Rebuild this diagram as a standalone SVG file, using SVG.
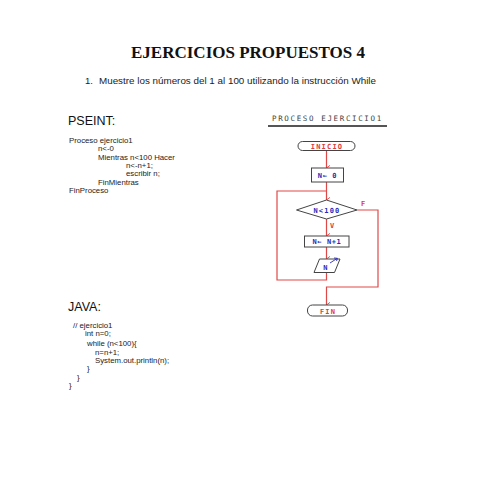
<svg xmlns="http://www.w3.org/2000/svg" width="495" height="495" viewBox="0 0 495 495">
<defs>
<marker id="ah" viewBox="0 0 8 8" refX="4" refY="7" markerWidth="7" markerHeight="7" orient="auto" markerUnits="userSpaceOnUse">
<path d="M1,3 L4,7 L7,3" fill="none" stroke="#e04848" stroke-width="1"/>
</marker>
</defs>
<style>
.title{font-family:"Liberation Serif",serif;font-weight:bold;font-size:17px;fill:#111}
.sub{font-family:"Liberation Sans",Arial,sans-serif;font-size:9.5px;fill:#222}
.head{font-family:"Liberation Sans",Arial,sans-serif;font-size:12.5px;fill:#111}
.code{font-family:"Liberation Sans",Arial,sans-serif;font-size:7.8px;fill:#222}
.fc{font-family:"DejaVu Sans Mono",monospace;font-size:7px;font-weight:bold;letter-spacing:1.2px}
.hdr{font-family:"DejaVu Sans Mono",monospace;font-size:7.5px;letter-spacing:1.8px;fill:#444}
.red{fill:#e03a3a}
.blue{fill:#2a2ab8}
.shape{fill:#fff;stroke:#444;stroke-width:1}
.conn{fill:none;stroke:#e04848;stroke-width:1.2}
</style>
<rect width="495" height="495" fill="#fff"/>

<text class="title" x="248" y="58" text-anchor="middle">EJERCICIOS PROPUESTOS 4</text>
<text class="sub" x="85" y="84">1.</text>
<text class="sub" x="99" y="84" textLength="277" lengthAdjust="spacingAndGlyphs">Muestre los números del 1 al 100 utilizando la instrucción While</text>

<text class="head" x="68" y="125">PSEINT:</text>
<g class="code">
<text x="69" y="143">Proceso ejercicio1</text>
<text x="98" y="151">n&lt;-0</text>
<text x="98" y="159.5">Mientras n&lt;100 Hacer</text>
<text x="126" y="168">n&lt;-n+1;</text>
<text x="126" y="176">escribir n;</text>
<text x="98" y="185">FinMientras</text>
<text x="69" y="193">FinProceso</text>
</g>

<text class="head" x="68" y="311">JAVA:</text>
<g class="code">
<text x="73" y="328">// ejercicio1</text>
<text x="85" y="336">int n=0;</text>
<text x="87" y="346">while (n&lt;100){</text>
<text x="95" y="354.5">n=n+1;</text>
<text x="95" y="363">System.out.println(n);</text>
<text x="87" y="371">}</text>
<text x="77" y="380">}</text>
<text x="69" y="388">}</text>
</g>

<g id="header">
<text class="hdr" x="272" y="121" textLength="111" lengthAdjust="spacing">PROCESO EJERCICIO1</text>
<rect x="268" y="125" width="119" height="2" fill="#555"/>
</g>

<g id="connectors">
<path class="conn" d="M326.5,151 V168" marker-end="url(#ah)"/>
<path class="conn" d="M326.5,182 V200" marker-end="url(#ah)"/>
<path class="conn" d="M326.5,273 V280 H277 V191 H326.5"/>
<path class="conn" d="M326.5,219 V236" marker-end="url(#ah)"/>
<path class="conn" d="M326.5,247 V259" marker-end="url(#ah)"/>
<path class="conn" d="M357,210 H378 V287 H326.5 V305" marker-end="url(#ah)"/>
<text class="fc red" x="361" y="206">F</text>
<text class="fc red" x="330" y="228">V</text>
</g>

<g id="inicio">
<rect class="shape" x="298" y="141.5" width="57" height="9" rx="4.5"/>
<text class="fc red" x="327" y="149" text-anchor="middle">INICIO</text>
</g>
<g id="assign0">
<rect class="shape" x="311.5" y="168" width="32" height="14"/>
<text class="fc blue" x="327.5" y="177.5" text-anchor="middle" style="letter-spacing:0.6px">N← 0</text>
</g>
<g id="cond">
<polygon class="shape" points="326.5,200 357,210 326.5,219 296.5,210"/>
<text class="fc blue" x="327" y="212.5" text-anchor="middle">N&lt;100</text>
</g>
<g id="inc">
<rect class="shape" x="304.5" y="236" width="44.5" height="11"/>
<text class="fc blue" x="327" y="244" text-anchor="middle" style="letter-spacing:0.6px">N← N+1</text>
</g>
<g id="output">
<polygon class="shape" points="319.5,259 340,259 334.5,272.5 314,272.5"/>
<text class="fc blue" x="326" y="269.5" text-anchor="middle">N</text>
<path d="M330,263 L337,258.5 M334,258 L337.5,258.3 L336.5,261" fill="none" stroke="#2a2ab8" stroke-width="0.9"/>
</g>
<g id="fin">
<rect class="shape" x="307.5" y="305" width="40" height="11" rx="5"/>
<text class="fc red" x="328" y="313.5" text-anchor="middle">FIN</text>
</g>
</svg>
